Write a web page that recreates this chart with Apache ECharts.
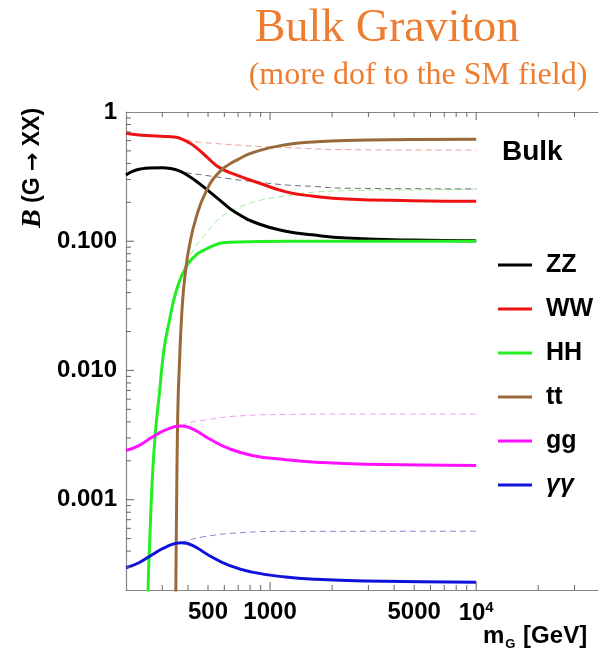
<!DOCTYPE html>
<html>
<head>
<meta charset="utf-8">
<script src="https://cdn.jsdelivr.net/npm/echarts@6/dist/echarts.min.js"></script>
<style>html,body{margin:0;padding:0;background:#fff;}#c{width:600px;height:659px;}</style>
</head>
<body>
<div id="c"></div>
<script>
// ---- data (mass in GeV, branching ratio) ----
const zzMass = [200, 215, 235, 260, 300, 330, 360, 390, 430, 489, 566, 684, 884, 1210, 1600, 2340, 4900, 10000];
const zzB    = [0.326, 0.347, 0.362, 0.369, 0.370, 0.365, 0.352, 0.33, 0.298, 0.254, 0.21, 0.166, 0.136, 0.119, 0.112, 0.106, 0.102, 0.101];
const wwMass = [200, 215, 240, 280, 320, 350, 375, 400, 437, 500, 566, 684, 884, 1210, 1600, 2340, 4900, 10000];
const wwB    = [0.687, 0.672, 0.660, 0.652, 0.645, 0.637, 0.615, 0.585, 0.533, 0.44, 0.373, 0.326, 0.282, 0.24, 0.224, 0.212, 0.206, 0.204];
const hhMass = [250, 256, 261, 268, 277, 290, 306, 324, 342, 362, 383, 418, 489, 633, 1236, 10000];
const hhB    = [0.00001, 0.0002, 0.0005, 0.00138, 0.00314, 0.0065, 0.0147, 0.0238, 0.0358, 0.048, 0.059, 0.073, 0.087, 0.098, 0.1, 0.1];
const ttMass = [346, 349, 352, 355, 358, 362, 375, 390, 405, 436, 487, 566, 681, 884, 1213, 1600, 2330, 5000, 10000];
const ttB    = [0.00001, 0.0002, 0.0009, 0.003, 0.006, 0.0098, 0.0318, 0.061, 0.09, 0.149, 0.239, 0.342, 0.42, 0.502, 0.56, 0.585, 0.603, 0.612, 0.615];
const ggMass = [200, 231, 268, 312, 369, 420, 506, 633, 820, 1191, 1667, 2914, 10000];
const ggB    = [0.0024, 0.00262, 0.00305, 0.00347, 0.00371, 0.00353, 0.00296, 0.00248, 0.0022, 0.00204, 0.00195, 0.00188, 0.00184];
const aaMass = [200, 231, 268, 312, 369, 420, 506, 633, 820, 1191, 1667, 2914, 10000];
const aaB    = [0.000297, 0.000325, 0.000375, 0.00043, 0.000464, 0.000443, 0.00037, 0.00031, 0.000275, 0.000252, 0.000242, 0.000235, 0.00023];

// dashed curves (no tt channel)
const zzNoTtMass = [350, 400, 469, 681, 884, 1213, 1600, 2330, 10000];
const zzNoTtB    = [0.356, 0.337, 0.326, 0.30, 0.286, 0.272, 0.266, 0.257, 0.254];
const wwNoTtMass = [350, 400, 469, 681, 884, 1213, 2330, 10000];
const wwNoTtB    = [0.637, 0.604, 0.582, 0.556, 0.54, 0.53, 0.511, 0.507];
const hhNoTtMass = [362, 383, 420, 487, 566, 681, 884, 1213, 1600, 2330, 5000, 10000];
const hhNoTtB    = [0.048, 0.061, 0.083, 0.114, 0.149, 0.178, 0.206, 0.225, 0.239, 0.246, 0.25, 0.252];
const ggNoTtMass = [369, 420, 469, 681, 1191, 2914, 10000];
const ggNoTtB    = [0.00372, 0.004, 0.0041, 0.00443, 0.00456, 0.0046, 0.0046];
const aaNoTtMass = [369, 390, 469, 681, 1191, 10000];
const aaNoTtB    = [0.000465, 0.000479, 0.000514, 0.000552, 0.000568, 0.00057];

// axis ticks / labels
const massTicksMinor = [300, 400, 500, 600, 700, 800, 900, 2000, 3000, 4000, 5000, 6000, 7000, 8000, 9000, 20000, 30000];
const massTicksMajor = [1000, 10000];
const massLabels = [500, 1000, 5000, 10000];
const bTicksMinor = [0.0003, 0.0004, 0.0005, 0.0006, 0.0007, 0.0008, 0.0009,
  0.002, 0.003, 0.004, 0.005, 0.006, 0.007, 0.008, 0.009,
  0.02, 0.03, 0.04, 0.05, 0.06, 0.07, 0.08, 0.09,
  0.2, 0.3, 0.4, 0.5, 0.6, 0.7, 0.8, 0.9];
const bTicksMajor = [0.001, 0.01, 0.1];
const bLabels = [0.001, 0.01, 0.1, 1];

const legendNames = ['ZZ', 'WW', 'HH', 'tt', 'gg', 'γγ'];

const M_MIN = 200, M_MAX = 39000, B_MIN = 0.0002, B_MAX = 1;

const zip = (xs, ys) => xs.map((x, i) => [x, ys[i]]);

const solid = (name, xs, ys, color) => ({
  name, type: 'line', data: zip(xs, ys), symbol: 'none', showSymbol: false,
  smooth: 0.5, clip: true,
  lineStyle: { color, width: 3 }, itemStyle: { color }, z: 3
});
const dashed = (xs, ys, color) => ({
  type: 'line', data: zip(xs, ys), symbol: 'none', showSymbol: false,
  smooth: 0.5, clip: true,
  lineStyle: { color, width: 1, type: [6, 4] }, z: 2, silent: true
});

// tick marks drawn through the axes' own scales (kind: 0 bottom, 1 top, 2 left)
const tickData = []
  .concat(massTicksMinor.map(v => [v, B_MIN, 5, 0]), massTicksMajor.map(v => [v, B_MIN, 8, 0]))
  .concat(massTicksMinor.map(v => [v, B_MAX, 5, 1]), massTicksMajor.map(v => [v, B_MAX, 8, 1]))
  .concat(bTicksMinor.map(v => [M_MIN, v, 5, 2]), bTicksMajor.map(v => [M_MIN, v, 8, 2]));
const tickSeries = {
  type: 'custom', data: tickData, clip: false, silent: true, z: 5,
  renderItem: (params, api) => {
    const p = api.coord([api.value(0), api.value(1)]);
    const len = api.value(2), kind = api.value(3);
    let x2 = p[0], y2 = p[1];
    if (kind === 0) y2 = p[1] - len; else if (kind === 1) y2 = p[1] + len; else x2 = p[0] + len;
    return { type: 'line', shape: { x1: p[0], y1: p[1], x2, y2 }, style: { stroke: '#666', lineWidth: 1 } };
  }
};

const FONT = 'Liberation Sans, Arial, sans-serif';

const option = {
  animation: false,
  backgroundColor: '#fff',
  grid: { left: 126, top: 112, right: 2, bottom: 69, containLabel: false, outerBoundsMode: 'none' },
  xAxis: [
    { type: 'log', logBase: 10, min: M_MIN, max: M_MAX, position: 'bottom',
      splitLine: { show: false }, axisTick: { show: false },
      axisLine: { show: true, lineStyle: { color: '#888', width: 1.2 } },
      axisLabel: { customValues: massLabels, margin: 10, color: '#000', fontFamily: FONT, fontWeight: 'bold', fontSize: 24,
        formatter: v => Math.round(v) === 10000 ? '{b|10}{s|4}' : String(Math.round(v)),
        rich: { b: { fontFamily: FONT, fontWeight: 'bold', fontSize: 24, color: '#000' },
                s: { fontFamily: FONT, fontWeight: 'bold', fontSize: 15, color: '#000', verticalAlign: 'top', padding: [0, 0, 12, 0] } } } },
    { type: 'log', logBase: 10, min: M_MIN, max: M_MAX, position: 'top',
      splitLine: { show: false }, axisTick: { show: false }, axisLabel: { show: false },
      axisLine: { show: true, lineStyle: { color: '#888', width: 1.2 } } }
  ],
  yAxis: [
    { type: 'log', logBase: 10, min: B_MIN, max: B_MAX, position: 'left',
      splitLine: { show: false }, axisTick: { show: false },
      axisLine: { show: true, lineStyle: { color: '#888', width: 1.2 } },
      axisLabel: { customValues: bLabels, margin: 9, color: '#000', fontFamily: FONT, fontWeight: 'bold', fontSize: 24,
        formatter: v => v >= 0.999 ? '1' : Number(v).toFixed(3) } }
  ],
  legend: {
    data: legendNames,
    orient: 'vertical', left: 493, top: 245,
    itemWidth: 34, itemHeight: 14, itemGap: 14,
    icon: 'path://M0,0 L34,0 L34,3 L0,3 Z',
    formatter: n => n === 'γγ' ? '{i|γγ}' : n,
    textStyle: { color: '#000', fontFamily: FONT, fontWeight: 'bold', fontSize: 25, lineHeight: 30, padding: [0, 0, 0, 9],
      rich: { i: { fontFamily: FONT, fontWeight: 'bold', fontStyle: 'italic', fontSize: 25, color: '#000' } } },
    selectedMode: false
  },
  graphic: [
    { type: 'text', x: 387, y: 29, style: { text: 'Bulk Graviton', fill: '#ED7D31', font: '46px "Liberation Serif", "DejaVu Serif", serif', textAlign: 'center', textVerticalAlign: 'middle' } },
    { type: 'text', x: 418, y: 76, style: { text: '(more dof to the SM field)', fill: '#ED7D31', font: '32px "Liberation Serif", "DejaVu Serif", serif', textAlign: 'center', textVerticalAlign: 'middle' } },
    { type: 'text', x: 502, y: 152, style: { text: 'Bulk', fill: '#000', font: 'bold 28px "Liberation Sans", Arial, sans-serif', textAlign: 'left', textVerticalAlign: 'middle' } },
    { type: 'text', x: 33, y: 168, rotation: Math.PI / 2,
      style: { text: '{b|B} (G {a|→} XX)', fill: '#000', font: 'bold 23px "Liberation Sans", Arial, sans-serif', textAlign: 'center', textVerticalAlign: 'middle',
        rich: { b: { fontFamily: '"Liberation Serif", serif', fontStyle: 'italic', fontWeight: 'bold', fontSize: 28, fill: '#000' },
                a: { fontFamily: '"DejaVu Sans", sans-serif', fontWeight: 'bold', fontSize: 22, fill: '#000' } } } },
    { type: 'text', x: 483, y: 636,
      style: { text: '{m|m}{g|G}{m| [GeV]}', fill: '#000', font: 'bold 24px "Liberation Sans", Arial, sans-serif', textAlign: 'left', textVerticalAlign: 'middle',
        rich: { m: { fontFamily: FONT, fontWeight: 'bold', fontSize: 24, fill: '#000', lineHeight: 30 },
                g: { fontFamily: FONT, fontWeight: 'bold', fontSize: 13, fill: '#000', verticalAlign: 'bottom', lineHeight: 30, padding: [8, 1, 0, 1] } } } }
  ],
  series: [
    tickSeries,
    dashed(zzNoTtMass, zzNoTtB, 'rgba(60,60,60,0.75)'),
    dashed(wwNoTtMass, wwNoTtB, 'rgba(230,90,90,0.6)'),
    dashed(hhNoTtMass, hhNoTtB, 'rgba(90,220,90,0.6)'),
    dashed(ggNoTtMass, ggNoTtB, 'rgba(230,90,230,0.6)'),
    dashed(aaNoTtMass, aaNoTtB, 'rgba(70,70,200,0.65)'),
    solid('ZZ', zzMass, zzB, '#000000'),
    solid('WW', wwMass, wwB, '#ee1111'),
    solid('HH', hhMass, hhB, '#22ee22'),
    solid('tt', ttMass, ttB, '#9a6a3a'),
    solid('gg', ggMass, ggB, '#ff11ff'),
    solid('γγ', aaMass, aaB, '#1111dd')
  ]
};

const chart = echarts.init(document.getElementById('c'), null, { renderer: 'canvas' });
chart.setOption(option);
</script>
</body>
</html>
